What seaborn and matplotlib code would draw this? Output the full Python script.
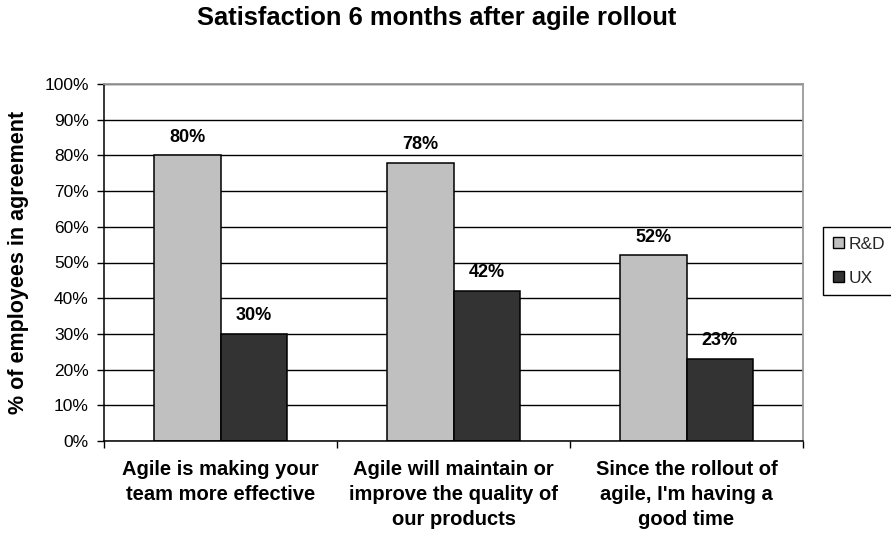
import matplotlib
matplotlib.use("Agg")
import matplotlib.pyplot as plt
import seaborn as sns
import pandas as pd
from matplotlib.ticker import FixedLocator

categories = [
    "Agile is making your\nteam more effective",
    "Agile will maintain or\nimprove the quality of\nour products",
    "Since the rollout of\nagile, I'm having a\ngood time",
]
groups = ["R&D", "UX"]
rd_values = [80, 78, 52]
ux_values = [30, 42, 23]
y_ticks = [0, 10, 20, 30, 40, 50, 60, 70, 80, 90, 100]
colors = {"R&D": "#C0C0C0", "UX": "#333333"}

sns.set_theme(style="white")
plt.rcParams["font.family"] = ["Liberation Sans", "DejaVu Sans"]

df = pd.DataFrame({
    "category": categories * 2,
    "group": [groups[0]] * len(categories) + [groups[1]] * len(categories),
    "value": rd_values + ux_values,
})

W, H = 891, 534
fig = plt.figure(figsize=(W / 100, H / 100), dpi=100)
left, right, top, bottom = 104, 803, 84, 441
ax = fig.add_axes([left / W, 1 - bottom / H, (right - left) / W, (bottom - top) / H])

sns.barplot(data=df, x="category", y="value", hue="group", hue_order=groups,
            palette=colors, width=0.567, saturation=1, edgecolor="black",
            linewidth=1.1, ax=ax, errorbar=None)

handles, labels = ax.get_legend_handles_labels()
if ax.legend_ is not None:
    ax.legend_.remove()

for cont in ax.containers:
    ax.bar_label(cont, labels=[f"{v:.0f}%" for v in cont.datavalues],
                 padding=7, fontsize=13, fontweight="bold", color="black")

ax.set_xlim(-0.5, 2.5)
ax.set_ylim(0, 100)
ax.set_yticks(y_ticks)
ax.set_yticklabels([f"{v}%" for v in y_ticks])
ax.yaxis.grid(True, color="black", linewidth=1.0)
ax.xaxis.grid(False)
ax.set_axisbelow(True)

ax.set_xticks(range(len(categories)))
ax.set_xticklabels(categories, fontsize=14.5, fontweight="bold",
                   multialignment="center", linespacing=1.4)
ax.xaxis.set_minor_locator(FixedLocator([-0.5, 0.5, 1.5, 2.5]))
ax.tick_params(axis="x", which="major", length=0, pad=14, colors="black")
ax.tick_params(axis="x", which="minor", bottom=True, length=5, width=1, direction="out", color="black")
ax.tick_params(axis="y", left=True, length=5, width=1, direction="out", color="black",
               labelsize=12.5, pad=6, labelcolor="black")
ax.set_xlabel("")
ax.set_ylabel("% of employees in agreement", fontsize=15.5, fontweight="bold", color="black")
ax.yaxis.set_label_coords(-0.108, 0.5)

for s in ["left", "bottom"]:
    ax.spines[s].set_color("black")
    ax.spines[s].set_linewidth(1.1)
for s in ["top", "right"]:
    ax.spines[s].set_color("#9a9a9a")
    ax.spines[s].set_linewidth(1.3)
    ax.spines[s].set_visible(True)

fig.text(437 / W, 1 - 18 / H, "Satisfaction 6 months after agile rollout",
         ha="center", va="center", fontsize=18.4, fontweight="bold", color="black")

leg = fig.legend(handles, labels, loc="upper left",
                 bbox_to_anchor=(823 / W, 1 - 227 / H), bbox_transform=fig.transFigure,
                 frameon=True, fancybox=False, edgecolor="black", framealpha=1,
                 fontsize=12.5, handlelength=0.65, handleheight=0.65,
                 handletextpad=0.3, borderpad=0.55, labelspacing=1.1, borderaxespad=0)
leg.get_frame().set_linewidth(1.0)
for h in leg.legend_handles:
    h.set_edgecolor("black")
    h.set_linewidth(1.0)

fig.savefig("out.png", dpi=100)
